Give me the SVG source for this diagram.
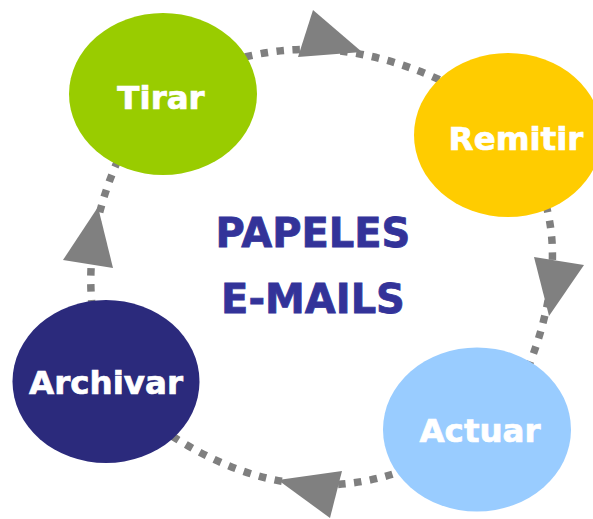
<svg xmlns="http://www.w3.org/2000/svg" width="593" height="519" viewBox="0 0 593 519">
<style>
.conn{fill:none;stroke:#7f7f7f;stroke-width:7.5;stroke-dasharray:7.5 8.5}
.head{fill:#808080}
.lbl{font-family:"DejaVu Sans","Verdana",sans-serif;font-weight:bold;font-size:32.5px;fill:#ffffff;stroke:#ffffff;stroke-width:0.7;text-anchor:middle}
.title{font-family:"DejaVu Sans","Verdana",sans-serif;font-weight:bold;font-size:40px;fill:#333399;stroke:#333399;stroke-width:0.8;text-anchor:middle}
</style>
<rect width="593" height="519" fill="#ffffff"/>
<g id="connectors">
<path class="conn" d="M245 57 Q340 34 440 80"/>
<polygon class="head" points="313,10 298,57 362,52"/>
<path class="conn" d="M546 205 Q565 275 528 368"/>
<polygon class="head" points="534,257 584,265 549,316"/>
<path class="conn" d="M172 436 Q290 512 405 470"/>
<polygon class="head" points="278,480 342,471 330,518"/>
<path class="conn" d="M118 160 Q85 235 92 305"/>
<polygon class="head" points="98,207 63,260 113,268"/>
</g>
<g id="tirar">
<ellipse cx="163" cy="94" rx="94" ry="81" fill="#99cc00"/>
<text class="lbl" x="161" y="109">Tirar</text>
</g>
<g id="remitir">
<ellipse cx="508" cy="135" rx="94" ry="82" fill="#ffcc00"/>
<text class="lbl" x="516" y="150">Remitir</text>
</g>
<g id="actuar">
<ellipse cx="477" cy="429.5" rx="94" ry="82" fill="#99ccff"/>
<text class="lbl" x="480" y="442">Actuar</text>
</g>
<g id="archivar">
<ellipse cx="106" cy="381.5" rx="93.5" ry="81.5" fill="#2b2a7c"/>
<text class="lbl" x="106" y="394">Archivar</text>
</g>
<g id="center">
<text class="title" x="313" y="247">PAPELES</text>
<text class="title" x="313" y="313">E-MAILS</text>
</g>
</svg>
